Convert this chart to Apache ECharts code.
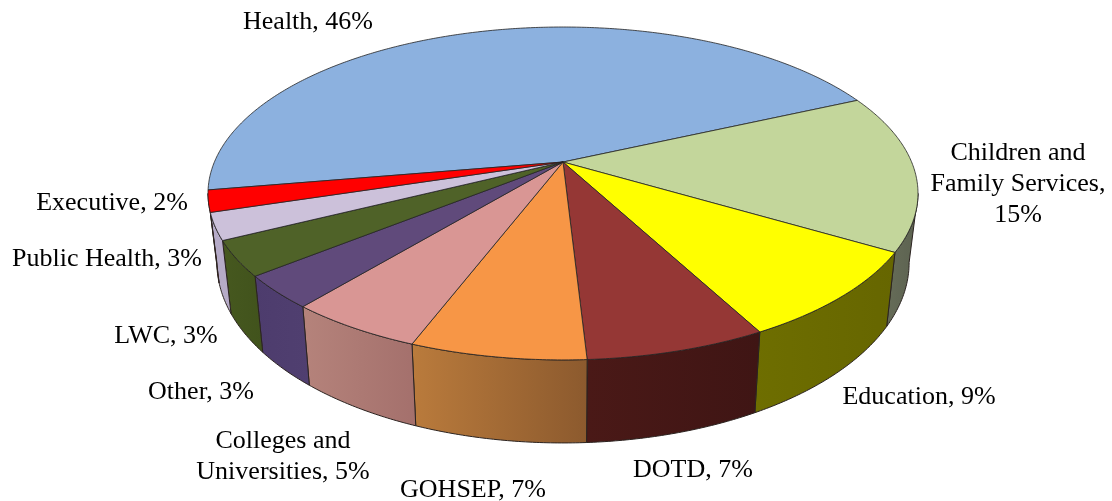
<!DOCTYPE html>
<html>
<head>
<meta charset="utf-8">
<title>Pie</title>
<script src="https://cdn.jsdelivr.net/npm/echarts@6/dist/echarts.min.js"></script>
<style>
  html, body { margin: 0; padding: 0; background: #fff; }
  #chart { width: 1112px; height: 501px; }
</style>
</head>
<body>
<div id="chart"></div>
<script>
// shares in percent, clockwise starting from Health (unrounded, estimated from the slices)
const categories = ['Health', 'Children and Family Services', 'Education', 'DOTD', 'GOHSEP',
  'Colleges and Universities', 'Other', 'LWC', 'Public Health', 'Executive']
const shares = [45.9, 15.3, 8.7, 6.9, 6.7, 5.2, 3.2, 3.4, 2.6, 2.1]
const labelTexts = ['Health, 46%', 'Children and\nFamily Services,\n15%', 'Education, 9%', 'DOTD, 7%', 'GOHSEP, 7%',
  'Colleges and\nUniversities, 5%', 'Other, 3%', 'LWC, 3%', 'Public Health, 3%', 'Executive, 2%']

const topColors = ['#8cb1df', '#c3d69b', '#ffff00', '#953735', '#f79646', '#d99694', '#604a7b', '#4f6228', '#ccc1da', '#ff0000']
const wallColors = [
  ['#5d7aa0', '#5d7aa0'], ['#666c58', '#5c6250'], ['#6e6e00', '#666600'], ['#4a1917', '#3f1514'], ['#ba7b3c', '#8c5a2e'],
  ['#b5837b', '#a4706c'], ['#4d3c6d', '#503f70'], ['#46581f', '#41531c'], ['#b6abc8', '#b6abc8'], ['#a00000', '#a00000']
]
// label centres in px
const labelPos = [[308, 22], [1018, 184], [919, 397], [693, 470], [473, 490],
  [283, 457], [201, 392], [166, 336], [107, 259], [112, 203]]

// projection of the tilted disc
const cx = 563, cy = 162, rimA = 348.6, rimB = 160.5, persp = 0.189
const startDeg = 189.7 // Health starts here and runs clockwise
const wallFrom = -10.9, wallTo = -169.1 // part of the rim where the wall can be seen

const project = (deg) => {
  const u = Math.cos(deg * Math.PI / 180)
  const v = Math.sin(deg * Math.PI / 180)
  const d = 1 + persp * v
  return [cx + rimA * u / d, cy - rimB * v / d]
}
const projectBottom = (deg) => {
  const p = project(deg)
  return [cx + 0.975 * (p[0] - cx), 52.8 + 1.084 * p[1]]
}

const total = shares.reduce((a, b) => a + b, 0)
const sliceAngles = (i) => {
  let before = 0
  for (let k = 0; k < i; k++) before += shares[k]
  const from = startDeg - before / total * 360
  return [from, from - shares[i] / total * 360]
}
const arc = (from, to, fn) => {
  const pts = []
  const n = Math.ceil((from - to) * 2)
  for (let k = 0; k <= n; k++) pts.push(fn(from + (to - from) * k / n))
  return pts
}

const renderWall = (params) => {
  const i = params.dataIndex
  const [from, to] = sliceAngles(i)
  const hi = Math.min(from, wallFrom)
  const lo = Math.max(to, wallTo)
  if (hi <= lo) return null
  const pts = arc(hi, lo, project).concat(arc(hi, lo, projectBottom).reverse())
  return {
    type: 'polygon',
    shape: { points: pts },
    style: {
      fill: new echarts.graphic.LinearGradient(0, 0, 1, 0, [
        { offset: 0, color: wallColors[i][0] },
        { offset: 1, color: wallColors[i][1] }
      ]),
      stroke: '#2b2320',
      lineWidth: 1
    }
  }
}

const renderTop = (params) => {
  const i = params.dataIndex
  const [from, to] = sliceAngles(i)
  return {
    type: 'group',
    children: [
      {
        type: 'polygon',
        shape: { points: [[cx, cy]].concat(arc(from, to, project)) },
        style: { fill: topColors[i], stroke: 'rgba(35,35,35,0.8)', lineWidth: 1 }
      },
      {
        type: 'text',
        style: {
          text: labelTexts[i],
          x: labelPos[i][0],
          y: labelPos[i][1],
          fill: '#000',
          font: '26px "Liberation Serif"',
          lineHeight: 31,
          align: 'center',
          verticalAlign: 'middle'
        }
      }
    ]
  }
}

const chart = echarts.init(document.getElementById('chart'))
chart.setOption({
  animation: false,
  backgroundColor: '#fff',
  series: [
    { type: 'custom', coordinateSystem: 'none', renderItem: renderWall, data: shares, z: 1, silent: true },
    {
      type: 'custom',
      coordinateSystem: 'none',
      renderItem: renderTop,
      data: shares.map((v, i) => ({ name: categories[i], value: v })),
      z: 2,
      silent: true
    }
  ]
})
</script>
</body>
</html>
